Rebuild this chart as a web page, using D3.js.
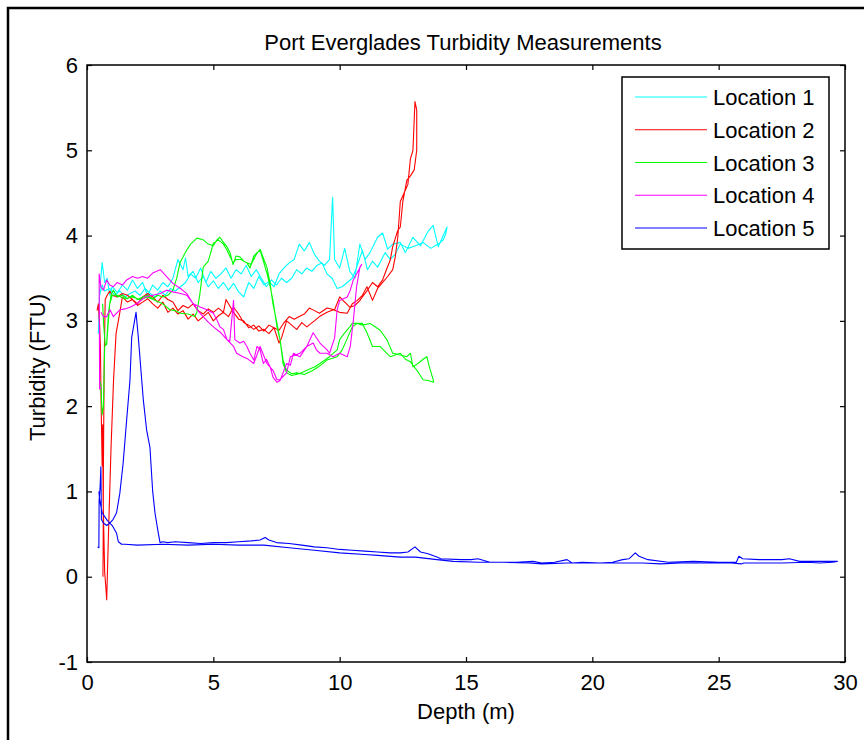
<!DOCTYPE html>
<html><head><meta charset="utf-8">
<script src="https://cdn.jsdelivr.net/npm/d3@7"></script>
<style>body{margin:0;background:#fff}svg{display:block}text{font-family:"Liberation Sans",Arial,sans-serif;fill:#000}</style>
</head><body>
<svg id="c" width="864" height="740"></svg>
<script>
const title = "Port Everglades Turbidity Measurements";
const xLabel = "Depth (m)";
const yLabel = "Turbidity (FTU)";
const xTicks = [0,5,10,15,20,25,30];
const yTicks = [-1,0,1,2,3,4,5,6];
const seriesNames = ["Location 1","Location 2","Location 3","Location 4","Location 5"];
const seriesColors = ["#00ffff","#ff0000","#00ff00","#ff00ff","#0000ff"];

const loc1 = [[0.45,2.85],[0.5,3.35],[0.6,3.68],[0.7,3.45],[0.8,3.5],[0.9,3.3],[1.0,3.4],[1.2,3.33],[1.4,3.42],[1.6,3.36],[1.8,3.48],[2.0,3.38],[2.2,3.45],[2.4,3.3],[2.6,3.42],[2.8,3.36],[3.0,3.45],[3.2,3.4],[3.4,3.5],[3.6,3.72],[3.8,3.6],[3.9,3.74],[4.0,3.52],[4.2,3.58],[4.4,3.45],[4.6,3.52],[4.8,3.4],[5.0,3.47],[5.2,3.38],[5.4,3.45],[5.6,3.36],[5.8,3.44],[6.0,3.34],[6.2,3.28],[6.4,3.45],[6.6,3.38],[6.8,3.52],[7.0,3.42],[7.2,3.46],[7.4,3.4],[7.6,3.55],[7.8,3.62],[8.0,3.68],[8.2,3.72],[8.4,3.9],[8.6,3.82],[8.8,3.92],[9.0,3.78],[9.2,3.7],[9.4,3.65],[9.6,3.72],[9.72,4.45],[9.8,3.72],[10.0,3.62],[10.2,3.85],[10.4,3.58],[10.6,3.5],[10.8,3.9],[11.0,3.72],[11.2,3.8],[11.5,3.98],[11.7,4.03],[11.9,3.84],[12.1,3.9],[12.4,3.92],[12.6,3.8],[12.9,3.98],[13.2,3.88],[13.5,4.05],[13.7,4.12],[13.9,3.87],[14.1,4.0],[14.25,4.1],[14.2,4.02],
[14.1,3.95],[13.9,3.9],[13.6,3.85],[13.3,3.92],[13.0,3.88],[12.7,3.85],[12.4,3.9],[12.2,3.78],[12.0,3.72],[11.8,3.8],[11.5,3.63],[11.3,3.7],[11.1,3.6],[10.9,3.83],[10.7,3.65],[10.5,3.5],[10.3,3.45],[10.1,3.4],[9.9,3.38],[9.7,3.5],[9.5,3.55],[9.3,3.68],[9.1,3.65],[8.9,3.58],[8.7,3.62],[8.5,3.55],[8.3,3.6],[8.1,3.5],[7.9,3.45],[7.7,3.5],[7.5,3.42],[7.3,3.48],[7.1,3.4],[6.9,3.5],[6.7,3.6],[6.5,3.52],[6.3,3.65],[6.1,3.55],[5.9,3.6],[5.7,3.5],[5.5,3.62],[5.3,3.55],[5.1,3.5],[4.9,3.58],[4.7,3.45],[4.5,3.62],[4.3,3.5],[4.1,3.55],[3.9,3.45],[3.7,3.4],[3.5,3.35],[3.3,3.38],[3.1,3.3],[2.9,3.35],[2.7,3.28],[2.5,3.32],[2.3,3.38],[2.1,3.3],[1.9,3.35],[1.7,3.32],[1.5,3.28],[1.3,3.35],[1.1,3.3],[0.9,3.38],[0.7,3.35],[0.6,3.42],[0.5,3.3]];

const loc2 = [[0.4,3.12],[0.45,3.2],[0.5,2.95],[0.53,2.7],[0.56,2.0],[0.6,1.3],[0.62,1.78],[0.64,0.9],[0.66,0.6],[0.7,0.05],[0.74,-0.1],[0.78,-0.27],[0.85,0.5],[0.95,1.5],[1.05,2.3],[1.15,2.85],[1.3,3.1],[1.4,3.28],[1.6,3.22],[1.8,3.25],[2.0,3.18],[2.2,3.22],[2.4,3.26],[2.6,3.2],[2.8,3.15],[3.0,3.22],[3.2,3.1],[3.4,3.15],[3.6,3.08],[3.8,3.12],[4.0,3.02],[4.2,3.08],[4.4,3.0],[4.6,3.05],[4.8,3.1],[5.0,3.0],[5.2,3.06],[5.4,3.1],[5.6,3.05],[5.8,3.16],[6.0,3.08],[6.2,2.98],[6.4,2.95],[6.6,2.9],[6.8,2.94],[7.0,2.88],[7.2,2.95],[7.4,2.92],[7.6,2.74],[7.7,2.8],[7.9,3.0],[8.1,2.95],[8.3,2.9],[8.5,2.98],[8.7,2.93],[9.0,3.0],[9.2,3.05],[9.5,3.1],[9.75,3.13],[10.0,3.1],[10.3,3.09],[10.5,3.2],[10.7,3.24],[10.9,3.3],[11.08,3.4],[11.3,3.24],[11.5,3.38],[11.7,3.45],[11.9,3.52],[12.1,3.6],[12.2,3.75],[12.3,3.98],[12.4,4.4],[12.55,4.5],[12.7,4.6],[12.8,4.9],[12.9,5.0],[12.98,5.57],[13.05,5.47],[13.05,5.0],
[12.95,4.77],[12.8,4.7],[12.66,4.65],[12.5,4.4],[12.4,4.1],[12.3,4.06],[12.1,3.87],[12.0,3.71],[11.85,3.6],[11.7,3.48],[11.5,3.4],[11.3,3.45],[11.1,3.36],[10.9,3.28],[10.8,3.24],[10.6,3.18],[10.4,3.16],[10.2,3.22],[10.0,3.28],[9.8,3.13],[9.5,3.15],[9.2,3.09],[9.0,3.12],[8.8,3.15],[8.6,3.08],[8.4,3.05],[8.2,3.02],[8.0,3.05],[7.8,2.98],[7.6,2.89],[7.4,2.92],[7.2,2.85],[7.0,2.9],[6.8,2.88],[6.6,2.95],[6.4,2.92],[6.2,3.0],[6.0,3.02],[5.8,3.1],[5.6,3.2],[5.5,3.25],[5.4,3.1],[5.2,3.15],[5.0,3.1],[4.8,3.14],[4.6,3.08],[4.4,3.12],[4.2,3.2],[4.0,3.15],[3.8,3.18],[3.6,3.12],[3.4,3.22],[3.2,3.25],[3.0,3.3],[2.8,3.22],[2.6,3.28],[2.4,3.32],[2.2,3.28],[2.0,3.2],[1.8,3.25],[1.6,3.3],[1.4,3.32],[1.2,3.28],[1.0,3.3],[0.9,3.35],[0.8,3.3],[0.72,3.25],[0.68,2.5],[0.65,1.3],[0.64,0.3],[0.63,0.0]];

const loc3 = [[0.5,2.3],[0.55,2.25],[0.6,1.9],[0.65,2.0],[0.7,2.7],[0.78,2.74],[0.85,3.1],[0.95,3.3],[1.04,3.36],[1.2,3.28],[1.4,3.3],[1.6,3.26],[1.8,3.3],[2.0,3.25],[2.2,3.28],[2.4,3.3],[2.6,3.26],[2.8,3.3],[3.0,3.28],[3.2,3.3],[3.4,3.36],[3.55,3.5],[3.68,3.68],[3.8,3.75],[3.95,3.83],[4.1,3.9],[4.35,3.97],[4.6,3.95],[4.8,3.9],[5.0,3.88],[5.14,3.95],[5.26,3.98],[5.4,3.92],[5.54,3.87],[5.66,3.8],[5.78,3.66],[5.9,3.76],[6.05,3.75],[6.2,3.7],[6.33,3.68],[6.45,3.62],[6.6,3.76],[6.73,3.8],[6.85,3.83],[6.98,3.7],[7.12,3.56],[7.25,3.4],[7.36,3.24],[7.52,2.93],[7.64,2.78],[7.76,2.54],[7.9,2.42],[8.1,2.38],[8.3,2.39],[8.6,2.37],[8.95,2.42],[9.2,2.47],[9.5,2.54],[9.9,2.58],[10.1,2.66],[10.28,2.78],[10.5,2.93],[10.7,2.97],[10.9,2.95],[11.2,2.97],[11.4,2.93],[11.6,2.89],[11.87,2.78],[12.1,2.62],[12.4,2.6],[12.66,2.58],[12.8,2.62],[12.9,2.46],[13.1,2.5],[13.3,2.55],[13.45,2.58],[13.55,2.46],[13.7,2.31],[13.72,2.28],
[13.5,2.3],[13.3,2.31],[13.06,2.42],[12.8,2.52],[12.6,2.55],[12.4,2.62],[12.2,2.6],[12.0,2.58],[11.8,2.64],[11.6,2.7],[11.3,2.7],[11.08,2.86],[10.9,2.97],[10.7,2.97],[10.5,2.97],[10.4,2.93],[10.2,2.86],[10.0,2.78],[9.9,2.66],[9.6,2.58],[9.22,2.5],[9.0,2.46],[8.7,2.42],[8.4,2.38],[8.1,2.36],[7.9,2.39],[7.76,2.5],[7.64,2.78],[7.5,3.0],[7.36,3.2],[7.24,3.45],[7.12,3.63],[7.0,3.72],[6.85,3.84],[6.7,3.78],[6.5,3.66],[6.33,3.68],[6.1,3.72],[5.9,3.72],[5.78,3.68],[5.65,3.76],[5.54,3.83],[5.4,3.9],[5.2,3.95],[5.0,3.91],[4.8,3.7],[4.6,3.63],[4.47,3.32],[4.35,3.1],[4.27,3.05],[4.0,3.08],[3.7,3.09],[3.5,3.12],[3.28,3.13],[3.0,3.2],[2.7,3.24],[2.4,3.28],[2.1,3.25],[1.8,3.28],[1.5,3.26],[1.2,3.3],[1.0,3.3],[0.9,3.2],[0.82,2.9],[0.78,2.72],[0.72,2.72],[0.66,2.95],[0.62,3.2]];

const loc4 = [[0.55,2.22],[0.5,2.2],[0.48,3.55],[0.55,3.4],[0.65,3.36],[0.78,3.48],[0.9,3.42],[1.04,3.4],[1.2,3.45],[1.4,3.42],[1.57,3.48],[1.8,3.52],[2.0,3.5],[2.2,3.52],[2.4,3.5],[2.6,3.56],[2.9,3.6],[3.15,3.52],[3.4,3.44],[3.7,3.38],[3.95,3.32],[4.2,3.2],[4.5,3.16],[4.75,3.13],[5.0,3.09],[5.13,3.02],[5.26,2.93],[5.4,2.9],[5.54,2.78],[5.65,2.76],[5.8,3.24],[5.85,2.78],[6.05,2.74],[6.2,2.76],[6.33,2.7],[6.45,2.62],[6.6,2.54],[6.73,2.7],[6.85,2.66],[6.98,2.5],[7.1,2.55],[7.25,2.46],[7.36,2.34],[7.52,2.28],[7.64,2.3],[7.76,2.39],[7.9,2.5],[8.05,2.48],[8.17,2.62],[8.43,2.58],[8.7,2.7],[8.95,2.74],[9.08,2.66],[9.22,2.62],[9.5,2.62],[9.74,2.58],[10.0,2.62],[10.3,2.58],[10.42,2.7],[10.54,3.0],[10.67,3.4],[10.8,3.63],[10.87,3.66],
[10.54,3.48],[10.42,3.36],[10.3,3.28],[10.0,3.24],[9.9,3.13],[9.8,2.8],[9.6,2.62],[9.5,2.66],[9.22,2.74],[8.95,2.86],[8.7,2.7],[8.43,2.62],[8.05,2.58],[7.9,2.39],[7.64,2.31],[7.52,2.31],[7.36,2.42],[7.12,2.5],[6.85,2.7],[6.6,2.5],[6.33,2.56],[6.17,2.58],[5.92,2.62],[5.8,2.7],[5.54,2.78],[5.3,2.86],[5.0,2.93],[4.75,3.0],[4.47,3.09],[4.2,3.2],[3.95,3.3],[3.7,3.32],[3.4,3.34],[3.15,3.36],[2.9,3.32],[2.6,3.3],[2.3,3.28],[1.97,3.2],[1.7,3.16],[1.5,3.14],[1.3,3.13],[1.04,3.05],[0.91,3.13],[0.78,3.05],[0.65,3.05],[0.55,3.1]];

const loc5 = [[0.42,0.35],[0.47,0.34],[0.48,0.9],[0.52,1.06],[0.55,1.29],[0.57,0.67],[0.65,0.63],[0.78,0.6],[0.91,0.63],[1.03,0.67],[1.17,0.75],[1.3,0.98],[1.43,1.33],[1.57,1.84],[1.7,2.3],[1.77,2.81],[1.94,3.1],[2.03,2.81],[2.23,2.07],[2.36,1.72],[2.49,1.52],[2.6,1.0],[2.69,0.75],[2.8,0.55],[2.89,0.4],[3.0,0.41],[3.2,0.4],[3.5,0.41],[4.0,0.4],[4.5,0.39],[5.0,0.4],[5.5,0.4],[6.0,0.41],[6.5,0.42],[6.85,0.43],[7.05,0.46],[7.2,0.43],[7.5,0.4],[8.0,0.39],[8.5,0.37],[9.0,0.35],[9.5,0.34],[10.0,0.32],[10.5,0.31],[11.0,0.3],[11.5,0.29],[12.0,0.28],[12.4,0.28],[12.7,0.29],[12.98,0.35],[13.2,0.29],[13.5,0.27],[13.85,0.23],[14.0,0.21],[14.8,0.2],[15.2,0.2],[15.47,0.21],[15.95,0.17],[16.5,0.17],[17.0,0.17],[17.65,0.18],[18.0,0.16],[18.5,0.17],[19.0,0.2],[19.2,0.16],[19.6,0.17],[20.3,0.16],[20.8,0.17],[21.2,0.2],[21.45,0.21],[21.7,0.28],[21.85,0.24],[22.2,0.2],[23.0,0.17],[24.0,0.18],[25.0,0.17],[25.7,0.17],[25.8,0.24],[25.95,0.21],[26.6,0.2],[27.5,0.2],[27.8,0.21],[28.2,0.18],[29.0,0.18],[29.7,0.18],
[29.5,0.17],[29.0,0.16],[28.5,0.17],[27.5,0.16],[26.5,0.16],[26.0,0.16],[25.9,0.15],[25.5,0.16],[24.5,0.16],[23.5,0.16],[22.7,0.15],[22.0,0.16],[21.0,0.16],[20.0,0.16],[19.0,0.16],[18.0,0.15],[17.5,0.16],[16.5,0.17],[15.5,0.17],[14.5,0.18],[13.85,0.2],[13.0,0.23],[12.4,0.23],[11.5,0.25],[11.0,0.26],[10.0,0.28],[9.0,0.31],[8.0,0.34],[7.0,0.37],[6.0,0.37],[5.0,0.38],[4.0,0.37],[3.0,0.38],[2.0,0.37],[1.5,0.38],[1.37,0.38],[1.24,0.41],[1.17,0.51],[1.0,0.6],[0.8,0.66],[0.6,0.75],[0.5,0.9],[0.47,1.0]];

const seriesData = [loc1, loc2, loc3, loc4, loc5];

const svg = d3.select("#c");
const L = 87, R = 845, T = 65, B = 662;
const x = d3.scaleLinear().domain([0,30]).range([L,R]);
const y = d3.scaleLinear().domain([-1,6]).range([B,T]);
const fmt = d => String(d);

// outer figure border
svg.append("path").attr("d","M8,760V8H880").attr("fill","none").attr("stroke","#000").attr("stroke-width",2.5);

svg.append("defs").append("clipPath").attr("id","clip").append("rect")
  .attr("x",L).attr("y",T).attr("width",R-L).attr("height",B-T);

const line = d3.line().x(d=>x(d[0])).y(d=>y(d[1]));
const g = svg.append("g").attr("clip-path","url(#clip)");
seriesData.forEach((s,i)=>{
  g.append("path").datum(s).attr("d",line).attr("fill","none")
   .attr("stroke",seriesColors[i]).attr("stroke-width",1.1).attr("stroke-linejoin","round");
});

// axes with inward ticks on all sides
const fs = 22;
const ax = svg.append("g");
ax.append("g").attr("transform",`translate(0,${B})`)
  .call(d3.axisBottom(x).tickValues(xTicks).tickFormat(fmt).tickSizeInner(-5).tickSizeOuter(0).tickPadding(12))
  .call(s=>{s.select(".domain").remove(); s.selectAll("text").attr("font-size",fs).attr("font-family",null);});
ax.append("g").attr("transform",`translate(0,${T})`)
  .call(d3.axisTop(x).tickValues(xTicks).tickSizeInner(-5).tickSizeOuter(0).tickFormat(""))
  .call(s=>s.select(".domain").remove());
ax.append("g").attr("transform",`translate(${L},0)`)
  .call(d3.axisLeft(y).tickValues(yTicks).tickFormat(fmt).tickSizeInner(-5).tickSizeOuter(0).tickPadding(9))
  .call(s=>{s.select(".domain").remove(); s.selectAll("text").attr("font-size",fs).attr("font-family",null);});
ax.append("g").attr("transform",`translate(${R},0)`)
  .call(d3.axisRight(y).tickValues(yTicks).tickSizeInner(-5).tickSizeOuter(0).tickFormat(""))
  .call(s=>s.select(".domain").remove());
ax.selectAll(".tick line").attr("stroke","#000").attr("stroke-width",1.2);
ax.selectAll(".tick text").attr("fill","#000");
svg.append("rect").attr("x",L).attr("y",T).attr("width",R-L).attr("height",B-T)
  .attr("fill","none").attr("stroke","#000").attr("stroke-width",1.5);

// titles
svg.append("text").attr("x",(L+R)/2 - 3).attr("y",50).attr("text-anchor","middle").attr("font-size",fs).text(title);
svg.append("text").attr("x",(L+R)/2).attr("y",719).attr("text-anchor","middle").attr("font-size",fs).text(xLabel);
svg.append("text").attr("transform",`translate(45,${(T+B)/2 + 4}) rotate(-90)`).attr("text-anchor","middle").attr("font-size",fs).text(yLabel);

// legend
const lg = svg.append("g");
lg.append("rect").attr("x",622).attr("y",77).attr("width",207).attr("height",172)
  .attr("fill","#fff").attr("stroke","#000").attr("stroke-width",1.5);
const rowY = d3.scaleLinear().domain([0,4]).range([97,228]);
seriesNames.forEach((n,i)=>{
  const yy = rowY(i);
  lg.append("line").attr("x1",635).attr("x2",707).attr("y1",yy).attr("y2",yy)
    .attr("stroke",seriesColors[i]).attr("stroke-width",1.2);
  lg.append("text").attr("x",713).attr("y",yy+8).attr("font-size",fs).text(n);
});
</script>
</body></html>
